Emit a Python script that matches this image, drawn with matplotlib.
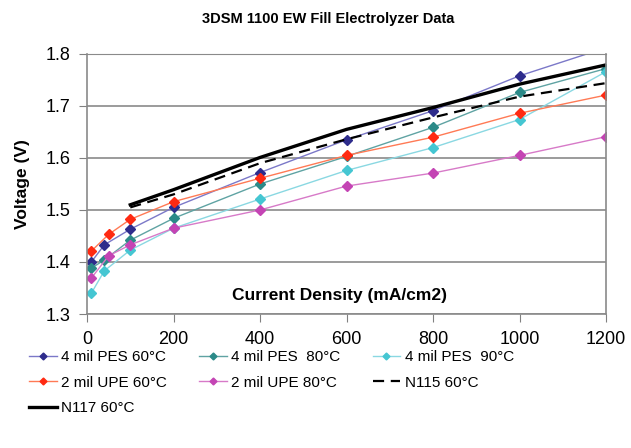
import matplotlib.pyplot as plt

# current density (mA/cm2)
pes_current = [10, 40, 100, 200, 400, 600, 800, 1000, 1200]
upe_current = [10, 50, 100, 200, 400, 600, 800, 1000, 1200]
nafion_current = [100, 200, 400, 600, 800, 1000, 1200]

# voltage (V)
pes_60 = [1.400, 1.433, 1.463, 1.505, 1.572, 1.635, 1.691, 1.758, 1.812]
pes_80 = [1.388, 1.404, 1.442, 1.484, 1.550, 1.603, 1.659, 1.726, 1.772]
pes_90 = [1.340, 1.383, 1.423, 1.465, 1.521, 1.576, 1.620, 1.674, 1.766]
upe_60 = [1.421, 1.453, 1.482, 1.516, 1.561, 1.605, 1.640, 1.686, 1.721]
upe_80 = [1.369, 1.412, 1.433, 1.465, 1.500, 1.546, 1.571, 1.605, 1.641]
n115_60 = [1.505, 1.530, 1.590, 1.636, 1.678, 1.718, 1.744]
n117_60 = [1.510, 1.539, 1.601, 1.655, 1.697, 1.742, 1.779]

plt.rcParams['font.family'] = ['Liberation Sans', 'DejaVu Sans']

fig = plt.figure(figsize=(6.31, 4.48), dpi=100)
ax = fig.add_axes([0.1379, 0.2991, 0.8225, 0.5804])

lines = {}
lines['pes60'], = ax.plot(pes_current, pes_60, color='#7b78c8', lw=1, marker='D', ms=5,
                          mfc='#2e2c8c', mec='#2e2c8c', label='4 mil PES 60°C')
lines['pes80'], = ax.plot(pes_current, pes_80, color='#5fa3a3', lw=1, marker='D', ms=5,
                          mfc='#2b8a88', mec='#2b8a88', label='4 mil PES  80°C')
lines['pes90'], = ax.plot(pes_current, pes_90, color='#8ad8e2', lw=1, marker='D', ms=5,
                          mfc='#45c6d2', mec='#45c6d2', label='4 mil PES  90°C')
lines['upe60'], = ax.plot(upe_current, upe_60, color='#ff7a55', lw=1, marker='D', ms=5,
                          mfc='#ff2a12', mec='#ff2a12', label='2 mil UPE 60°C')
lines['upe80'], = ax.plot(upe_current, upe_80, color='#d77ac8', lw=1, marker='D', ms=5,
                          mfc='#c444b4', mec='#c444b4', label='2 mil UPE 80°C')
lines['n115'], = ax.plot(nafion_current, n115_60, color='black', lw=1.6, ls=(0, (5, 3)),
                         label='N115 60°C')
lines['n117'], = ax.plot(nafion_current, n117_60, color='black', lw=2.4, label='N117 60°C')

ax.set_xlim(0, 1200)
ax.set_ylim(1.3, 1.8)
ax.set_xticks([0, 200, 400, 600, 800, 1000, 1200])
ax.set_yticks([1.3, 1.4, 1.5, 1.6, 1.7, 1.8])
ax.set_yticklabels(['1.3', '1.4', '1.5', '1.6', '1.7', '1.8'])
ax.tick_params(labelsize=13, color='#808080', length=6, pad=6)
ax.grid(axis='y', color='#8a8a8a', lw=1.2)
ax.set_axisbelow(True)
for s in ['left', 'bottom', 'right']:
    ax.spines[s].set_color('#8a8a8a')
    ax.spines[s].set_linewidth(1.2)
ax.spines['top'].set_color('#8a8a8a')

ax.set_ylabel('Voltage (V)', fontsize=12.5, fontweight='bold')
ax.yaxis.set_label_coords(-0.11, 0.5)
ax.text(0.486, 0.073, 'Current Density (mA/cm2)', transform=ax.transAxes, ha='center', va='center',
        fontsize=12.5, fontweight='bold')
fig.text(0.52, 0.958, '3DSM 1100 EW Fill Electrolyzer Data', ha='center', va='center',
         fontsize=10.5, fontweight='bold')

order = ['pes60', 'upe60', 'n117', 'pes80', 'upe80', 'pes90', 'n115']
fig.legend([lines[k] for k in order], [lines[k].get_label() for k in order],
           loc='upper left', bbox_to_anchor=(0.034, 0.235), ncol=3, frameon=False,
           fontsize=11, handlelength=1.8, handletextpad=0.3, columnspacing=2.1,
           labelspacing=0.75, borderpad=0, markerscale=0.7)

fig.savefig('out.png', dpi=100)
